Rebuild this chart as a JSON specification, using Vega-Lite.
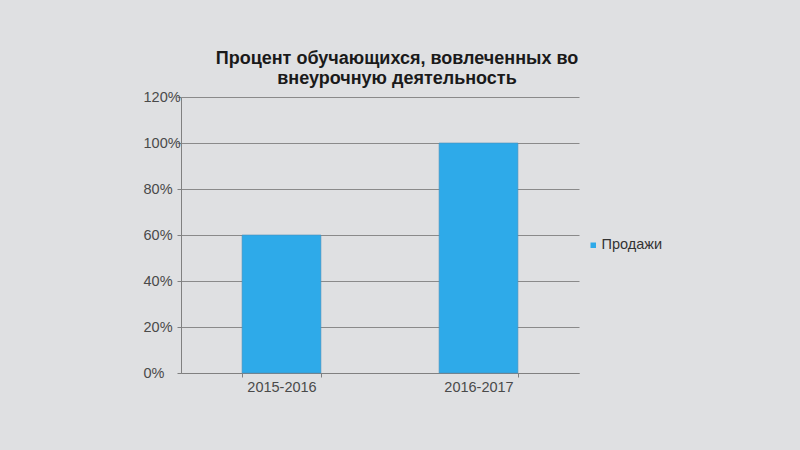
{
  "$schema": "https://vega.github.io/schema/vega-lite/v6.json",
  "autosize": {"type": "none"},
  "width": 398,
  "height": 276,
  "padding": {"left": 181, "top": 97, "right": 221, "bottom": 77},
  "background": "#dfe0e2",
  "config": {
    "font": "Liberation Sans",
    "view": {"stroke": null}
  },
  "title": {
    "text": ["Процент обучающихся, вовлеченных во", "внеурочную деятельность"],
    "fontSize": 18,
    "fontWeight": "bold",
    "color": "#1a1a1a",
    "lineHeight": 20,
    "dx": 17,
    "offset": 1
  },
  "data": {
    "values": [
      {"year": "2015-2016", "series": "Продажи", "value": 0.6},
      {"year": "2016-2017", "series": "Продажи", "value": 1.0}
    ]
  },
  "mark": {"type": "bar", "stroke": "#4a8fb8", "strokeWidth": 0.6},
  "encoding": {
    "x": {
      "field": "year",
      "type": "nominal",
      "title": null,
      "scale": {"paddingInner": 0.6, "paddingOuter": 0.31},
      "axis": {
        "labelAngle": 0,
        "labelFontSize": 14.5,
        "labelColor": "#4a4a4a",
        "labelPadding": 3,
        "domainColor": "#808080",
        "tickColor": "#808080",
        "tickBand": "extent",
        "tickSize": 4,
        "grid": false
      }
    },
    "y": {
      "field": "value",
      "type": "quantitative",
      "title": null,
      "scale": {"domain": [0, 1.2]},
      "axis": {
        "format": ".0%",
        "values": [0, 0.2, 0.4, 0.6, 0.8, 1.0, 1.2],
        "labelFontSize": 14.5,
        "labelColor": "#4a4a4a",
        "labelAlign": "left",
        "labelPadding": 34,
        "domainColor": "#808080",
        "tickColor": "#808080",
        "tickSize": 4,
        "gridColor": "#8a8a8a",
        "gridWidth": 1
      }
    },
    "color": {
      "field": "series",
      "type": "nominal",
      "scale": {"range": ["#2eaae9"]},
      "legend": {
        "title": null,
        "orient": "none",
        "legendX": 405,
        "legendY": 141,
        "symbolType": "square",
        "symbolSize": 30,
        "symbolStrokeWidth": 0,
        "labelFontSize": 14.5,
        "labelColor": "#333333",
        "labelOffset": 1
      }
    }
  }
}
